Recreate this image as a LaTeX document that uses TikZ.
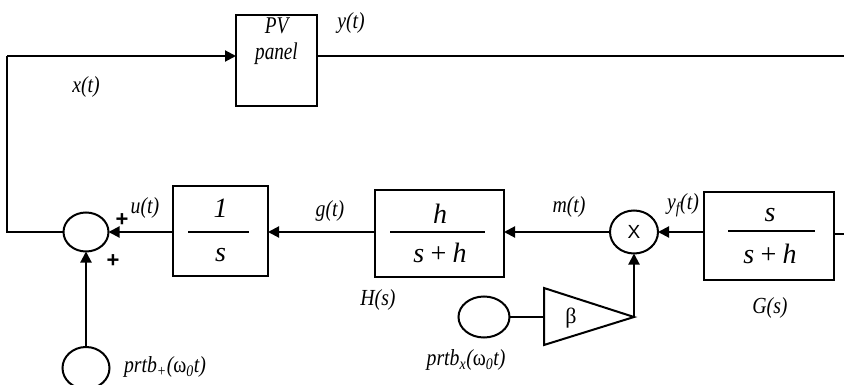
\documentclass[tikz,border=0pt]{standalone}
\usepackage{fontspec}
\setmainfont{Liberation Serif}
\newfontfamily\condfont{Liberation Serif}[FakeStretch=0.86]
\newfontfamily\pvfont{Liberation Serif}[FakeStretch=0.8]
\newfontfamily\plusfont{Liberation Sans}
\usetikzlibrary{arrows.meta,shapes.geometric}
\begin{document}
\begin{tikzpicture}[x=1pt,y=-1pt,line width=2pt,
  blk/.style={draw,rectangle,inner sep=0pt,outer sep=0pt},
  ell/.style={draw,ellipse,inner sep=0pt,outer sep=0pt},
  arr/.style={-{Triangle[length=11pt,width=11pt]}},
  lbl/.style={inner sep=0pt,font=\fontsize{23}{25}\selectfont\condfont\itshape},
  frac/.style={inner sep=0pt,font=\fontsize{28}{30}\selectfont\itshape},
  plus/.style={inner sep=0pt,font=\fontsize{22}{24}\selectfont\plusfont\bfseries}]
\useasboundingbox (0,0) rectangle (844,385);

% blocks
\node[blk,minimum width=81pt,minimum height=91pt] (pv) at (276.5,60.5) {};
\node[blk,minimum width=95pt,minimum height=90pt] (int) at (220.5,231) {};
\node[blk,minimum width=129pt,minimum height=87pt] (hb) at (439.5,233.5) {};
\node[blk,minimum width=130pt,minimum height=88pt] (gb) at (769,236) {};
\node[ell,minimum width=45pt,minimum height=39pt] (sum) at (86,232) {};
\node[ell,minimum width=48pt,minimum height=43pt] (mul) at (634,232) {};
\node[ell,minimum width=47pt,minimum height=42pt] (pp) at (86,368) {};
\node[ell,minimum width=51pt,minimum height=41pt] (px) at (484,317) {};
\coordinate (trl) at (544,317);
\coordinate (tri) at (634,317);
\draw[line join=miter] (544,288) -- (tri) -- (544,345) -- cycle;

% free ends
\coordinate (lft) at (7,56);
\coordinate (rgt) at (846,56);
\coordinate (grt) at (846,234);
\coordinate (lcorner) at (7,232);

% text in blocks
\node[inner sep=0pt,align=center,font=\fontsize{24}{26}\selectfont\pvfont\itshape] (pvt) at (276.5,41) {PV\\panel};
\node[frac] (n1) at (220.5,208) {1};
\node[frac] (d1) at (220.5,255) {s};
\draw (188,232) -- (249,232);
\node[frac] (nh) at (440,214) {h};
\node[frac] (dh) at (440,253) {s\,+\,h};
\draw (390,232) -- (485,232);
\node[frac] (ng) at (770,215) {s};
\node[frac] (dg) at (770,254) {s\,+\,h};
\draw (728,231) -- (815,231);
\node[inner sep=0pt,font=\fontsize{19}{21}\selectfont\plusfont] (xx) at (mul) {X};
\node[inner sep=0pt,font=\fontsize{22}{24}\selectfont] (beta) at (571,318) {β};

% connectors
\draw[arr] (lft) -- (pv.west |- lft);
\draw (pv.east |- rgt) -- (rgt);
\draw (lft) -- (lcorner) -- (sum.west);
\draw[arr] (sum.east -| int.west) -- (sum.east);
\draw[arr] (sum.east -| hb.west) -- (sum.east -| int.east);
\draw[arr] (mul.west) -- (mul.west -| hb.east);
\draw[arr] (mul.east -| gb.west) -- (mul.east);
\draw (gb.east |- grt) -- (grt);
\draw[arr] (pp.north) -- (sum.south);
\draw (px.east) -- (trl);
\draw[arr] (tri) -- (mul.south);

% labels
\node[lbl] (ly) at (351,23) {y(t)};
\node[lbl] (lx) at (86,87) {x(t)};
\node[lbl] (lu) at (145,208) {u(t)};
\node[plus] (p1) at (122,220) {+};
\node[plus] (p2) at (113,261) {+};
\node[lbl] (lg) at (330,211) {g(t)};
\node[lbl] (lH) at (378,300) {H(s)};
\node[lbl] (lm) at (569,207) {m(t)};
\node[lbl] (lyf) at (683,205) {y\textsubscript{f}(t)};
\node[lbl] (lG) at (770,308) {G(s)};
\node[lbl] (lpx) at (466,360) {prtb\textsubscript{x}(\upshape ω\textsubscript{\itshape 0}\itshape t)};
\node[lbl,anchor=west] (lpp) at (123,367) {prtb\textsubscript{+}(\upshape ω\textsubscript{\itshape 0}\itshape t)};
\end{tikzpicture}
\end{document}
